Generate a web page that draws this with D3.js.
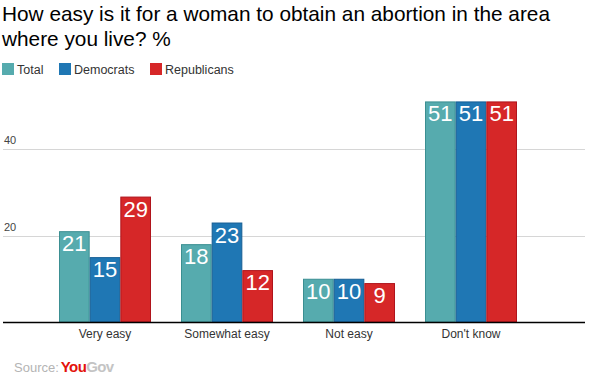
<!DOCTYPE html>
<html>
<head>
<meta charset="utf-8">
<script src="https://cdn.jsdelivr.net/npm/d3@7"></script>
<style>
  body { margin: 0; background: #fff; }
  svg { font-family: Arial, "Liberation Sans", sans-serif; display: block; }
</style>
</head>
<body>
<div id="chart"></div>
<script>
var categories = ["Very easy", "Somewhat easy", "Not easy", "Don't know"];
var seriesNames = ["Total", "Democrats", "Republicans"];
var total = [21, 18, 10, 51];
var democrats = [15, 23, 10, 51];
var republicans = [29, 12, 9, 51];
var yTicks = [20, 40];

var fills = ["#56abae", "#1f77b4", "#d62728"];
var strokes = ["#3b8f92", "#155e94", "#b0141c"];

var width = 602, height = 386;
var baseY = 322;

var svg = d3.select("#chart").append("svg")
    .attr("width", width)
    .attr("height", height)
    .style("background-color", "white");

// title
var title = svg.append("text")
    .attr("x", 2)
    .attr("y", 21)
    .style("font-size", "20.8px")
    .style("fill", "#000");
title.append("tspan").attr("x", 2).text("How easy is it for a woman to obtain an abortion in the area");
title.append("tspan").attr("x", 2).attr("dy", 25).text("where you live? %");

// legend
var legendX = [2, 59, 150];
var legend = svg.append("g").attr("class", "legend");
seriesNames.forEach(function(name, i) {
    legend.append("rect")
        .attr("x", legendX[i])
        .attr("y", 63)
        .attr("width", 12)
        .attr("height", 12)
        .attr("fill", fills[i]);
    legend.append("text")
        .attr("x", legendX[i] + 15)
        .attr("y", 73.5)
        .style("font-size", "12.5px")
        .style("fill", "#333")
        .text(name);
});

var y = d3.scaleLinear().domain([0, 40]).range([baseY, 149]);

var x0 = d3.scaleBand()
    .domain(categories)
    .range([44, 532])
    .paddingInner(0)
    .paddingOuter(0);

var x1 = d3.scaleBand()
    .domain(seriesNames)
    .range([15, x0.bandwidth() - 15]);

// grid
var grid = svg.append("g").attr("class", "grid");
grid.selectAll("line")
    .data(yTicks)
    .enter()
    .append("line")
    .attr("x1", 3)
    .attr("x2", 585)
    .attr("y1", function(d) { return Math.round(y(d)) + 0.5; })
    .attr("y2", function(d) { return Math.round(y(d)) + 0.5; })
    .attr("stroke", "#d6d6d6")
    .attr("stroke-width", 1);
grid.selectAll("text")
    .data(yTicks)
    .enter()
    .append("text")
    .attr("x", 4)
    .attr("y", function(d) { return y(d) - 5; })
    .style("font-size", "11px")
    .style("fill", "#444")
    .text(function(d) { return d; });

var rows = categories.map(function(c, i) {
    return { category: c, values: [total[i], democrats[i], republicans[i]] };
});

var groups = svg.append("g").attr("class", "bars")
    .selectAll("g")
    .data(rows)
    .enter()
    .append("g")
    .attr("transform", function(d) { return "translate(" + x0(d.category) + ",0)"; });

groups.selectAll("rect")
    .data(function(d) {
        return d.values.map(function(v, i) { return { name: seriesNames[i], value: v, i: i }; });
    })
    .enter()
    .append("rect")
    .attr("x", function(d) { return x1(d.name) + 0.5; })
    .attr("y", function(d) { return y(d.value) + 0.5; })
    .attr("width", x1.bandwidth() - 1)
    .attr("height", function(d) { return baseY - y(d.value) - 0.5; })
    .attr("fill", function(d) { return fills[d.i]; })
    .attr("stroke", function(d) { return strokes[d.i]; })
    .attr("stroke-width", 1);

groups.selectAll("text")
    .data(function(d) {
        return d.values.map(function(v, i) { return { name: seriesNames[i], value: v }; });
    })
    .enter()
    .append("text")
    .attr("x", function(d) { return x1(d.name) + x1.bandwidth() / 2; })
    .attr("y", function(d) { return y(d.value) + 20; })
    .style("text-anchor", "middle")
    .style("font-size", "22px")
    .style("fill", "#fff")
    .text(function(d) { return d.value; });

// baseline
svg.append("line")
    .attr("x1", 3)
    .attr("x2", 585)
    .attr("y1", baseY + 0.5)
    .attr("y2", baseY + 0.5)
    .attr("stroke", "#000")
    .attr("stroke-width", 1.5);

// category labels
svg.append("g").attr("class", "xlabels")
    .selectAll("text")
    .data(categories)
    .enter()
    .append("text")
    .attr("x", function(d) { return x0(d) + x0.bandwidth() / 2; })
    .attr("y", 338)
    .style("text-anchor", "middle")
    .style("font-size", "12px")
    .style("fill", "#333")
    .text(function(d) { return d; });

// source
var src = svg.append("text")
    .attr("x", 14)
    .attr("y", 372)
    .style("font-size", "13px");
src.append("tspan").style("fill", "#b4b4b4").text("Source:");
src.append("tspan").attr("dx", 2).style("fill", "#e3120b").style("font-weight", "bold").style("font-size", "15px").style("letter-spacing", "-0.6px").text("You");
src.append("tspan").style("fill", "#c4c4c4").style("font-weight", "bold").style("font-size", "15px").style("letter-spacing", "-0.6px").text("Gov");
</script>
</body>
</html>
